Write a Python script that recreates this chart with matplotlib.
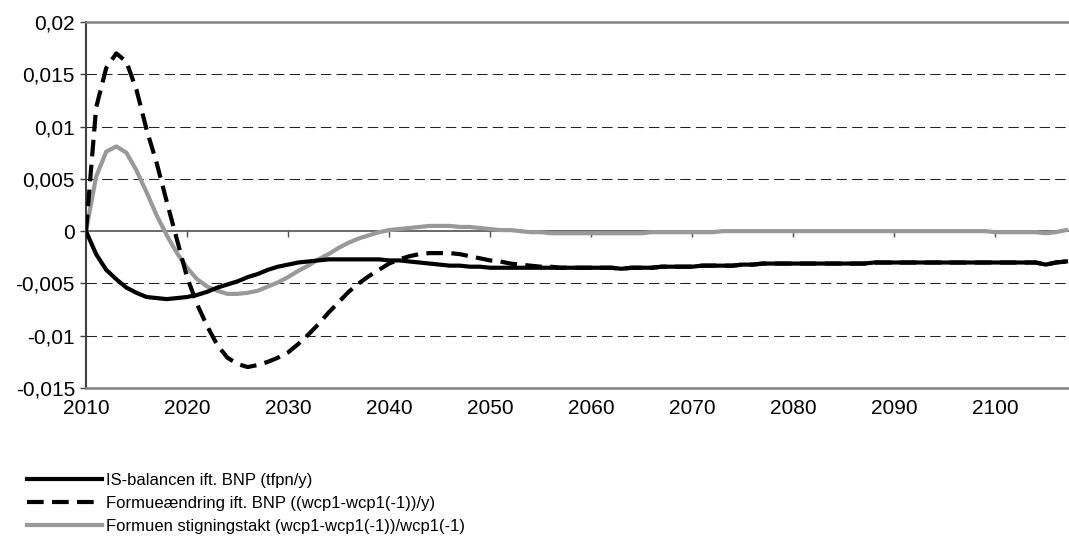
import matplotlib
matplotlib.use("Agg")
import matplotlib.pyplot as plt
from matplotlib import font_manager

# Values (annual, 2010-2107)
years = list(range(2010, 2108))

is_balance = [
    0.0, -0.0022, -0.0037, -0.0046, -0.0054, -0.0059, -0.0063, -0.0064, -0.0065, -0.0064,
    -0.0063, -0.0061, -0.0058, -0.0054, -0.0051, -0.0048, -0.0044, -0.0041, -0.0037, -0.0034,
    -0.0032, -0.0030, -0.0029, -0.0028, -0.0027, -0.0027, -0.0027, -0.0027, -0.0027, -0.0027,
    -0.0028, -0.0028, -0.0029, -0.0030, -0.0031, -0.0032, -0.0033, -0.0033, -0.0034, -0.0034,
    -0.0035, -0.0035, -0.0035, -0.0035, -0.0035, -0.0035, -0.0035, -0.0035, -0.0035, -0.0035,
    -0.0035, -0.0035, -0.0035, -0.0036, -0.0035, -0.0035, -0.0035, -0.0034, -0.0034, -0.0034,
    -0.0034, -0.0033, -0.0033, -0.0033, -0.0033, -0.0032, -0.0032, -0.0031, -0.0031, -0.0031,
    -0.0031, -0.0031, -0.0031, -0.0031, -0.0031, -0.0031, -0.0031, -0.0031, -0.0030, -0.0030,
    -0.0030, -0.0030, -0.0030, -0.0030, -0.0030, -0.0030, -0.0030, -0.0030, -0.0030, -0.0030,
    -0.0030, -0.0030, -0.0030, -0.0030, -0.0030, -0.0032, -0.0030, -0.0029,
]

formue_change = [
    0.0, 0.0118, 0.0156, 0.0170, 0.0162, 0.0135, 0.0097, 0.0065, 0.0028, -0.0008,
    -0.0044, -0.0070, -0.0091, -0.0109, -0.0121, -0.0127, -0.0130, -0.0128, -0.0125, -0.0121,
    -0.0116, -0.0108, -0.0099, -0.0089, -0.0078, -0.0068, -0.0058, -0.0050, -0.0043, -0.0037,
    -0.0031, -0.0027, -0.0024, -0.0022, -0.0021, -0.0021, -0.0021, -0.0022, -0.0024, -0.0026,
    -0.0028, -0.0029, -0.0031, -0.0032, -0.0033, -0.0034, -0.0034, -0.0035, -0.0035, -0.0035,
    -0.0035, -0.0035, -0.0035, -0.0036, -0.0035, -0.0035, -0.0035, -0.0034, -0.0034, -0.0034,
    -0.0034, -0.0033, -0.0033, -0.0033, -0.0033, -0.0032, -0.0032, -0.0031, -0.0031, -0.0031,
    -0.0031, -0.0031, -0.0031, -0.0031, -0.0031, -0.0031, -0.0031, -0.0031, -0.0030, -0.0030,
    -0.0030, -0.0030, -0.0030, -0.0030, -0.0030, -0.0030, -0.0030, -0.0030, -0.0030, -0.0030,
    -0.0030, -0.0030, -0.0030, -0.0030, -0.0030, -0.0032, -0.0030, -0.0029,
]

growth_rate = [
    0.0, 0.0052, 0.0076, 0.0081, 0.0075, 0.0058, 0.0037, 0.0015, -0.0004, -0.0021,
    -0.0035, -0.0046, -0.0053, -0.0057, -0.0060, -0.0060, -0.0059, -0.0057, -0.0053, -0.0049,
    -0.0044, -0.0038, -0.0033, -0.0027, -0.0022, -0.0016, -0.0011, -0.0007, -0.0004, -0.0001,
    0.0001, 0.0002, 0.0003, 0.0004, 0.0005, 0.0005, 0.0005, 0.0004, 0.0004, 0.0003,
    0.0002, 0.0001, 0.0001, 0.0000, -0.0001, -0.0001, -0.0002, -0.0002, -0.0002, -0.0002,
    -0.0002, -0.0002, -0.0002, -0.0002, -0.0002, -0.0002, -0.0001, -0.0001, -0.0001, -0.0001,
    -0.0001, -0.0001, -0.0001, 0.0000, 0.0000, 0.0000, 0.0000, 0.0000, 0.0000, 0.0000,
    0.0000, 0.0000, 0.0000, 0.0000, 0.0000, 0.0000, 0.0000, 0.0000, 0.0000, 0.0000,
    0.0000, 0.0000, 0.0000, 0.0000, 0.0000, 0.0000, 0.0000, 0.0000, 0.0000, 0.0000,
    -0.0001, -0.0001, -0.0001, -0.0001, -0.0001, -0.0002, -0.0001, 0.0001,
]

labels = [
    "IS-balancen ift. BNP (tfpn/y)",
    "Formueændring ift. BNP ((wcp1-wcp1(-1))/y)",
    "Formuen stigningstakt (wcp1-wcp1(-1))/wcp1(-1)",
]

x_ticks = [2010, 2020, 2030, 2040, 2050, 2060, 2070, 2080, 2090, 2100]
y_ticks = [-0.015, -0.01, -0.005, 0, 0.005, 0.01, 0.015, 0.02]
y_tick_labels = ["-0,015", "-0,01", "-0,005", "0", "0,005", "0,01", "0,015", "0,02"]

BLACK = "#000000"
GREY = "#999999"
AXIS_GREY = "#808080"
DPI = 100
TICK_FONT = 15

# legend text in the reference is tall but narrow
try:
    font_manager.findfont("Liberation Sans Narrow", fallback_to_default=False)
    LEGEND_FAMILY = ["Liberation Sans Narrow", "DejaVu Sans"]
    LEGEND_SIZE = 14
except ValueError:
    LEGEND_FAMILY = ["Liberation Sans", "DejaVu Sans"]
    LEGEND_SIZE = 12
LEGEND_PX = LEGEND_SIZE * DPI / 72

plt.rcParams.update({
    "font.family": ["Liberation Sans", "DejaVu Sans"],
    "font.size": TICK_FONT,
})

fig = plt.figure(figsize=(10.69, 5.41), dpi=DPI)
ax = fig.add_axes([86 / 1069, 1 - 388 / 541, 1 - 86 / 1069, (388 - 22) / 541])

XMIN, XMAX = 2010, 2107.3
YMIN, YMAX = -0.015, 0.02
ax.set_xlim(XMIN, XMAX)
ax.set_ylim(YMIN, YMAX)

# horizontal dashed gridlines (not at the borders / zero)
for yv in y_ticks:
    if yv in (YMIN, YMAX, 0):
        continue
    ax.axhline(yv, color="#222222", linewidth=0.75, linestyle=(0, (10, 5)), zorder=1)

# zero axis line with downward ticks
ax.axhline(0, color="#505050", linewidth=1.2, zorder=2)
zero_pos = (0 - YMIN) / (YMAX - YMIN)
sec = ax.secondary_xaxis(zero_pos)
sec.set_xticks(x_ticks)
sec.tick_params(axis="x", direction="out", length=4, width=1, color="#505050",
                labelbottom=False, labeltop=False)
for s in sec.spines.values():
    s.set_visible(False)

ax.plot(years, is_balance, color=BLACK, linewidth=3, label=labels[0], zorder=4)
ax.plot(years, formue_change, color=BLACK, linewidth=3, linestyle=(0, (4, 2)),
        label=labels[1], zorder=5)
ax.plot(years, growth_rate, color=GREY, linewidth=3, label=labels[2], zorder=3)

ax.set_xticks(x_ticks)
ax.tick_params(axis="x", length=0, pad=8)
ax.set_yticks(y_ticks)
ax.set_yticklabels(y_tick_labels)
ax.tick_params(axis="y", direction="out", length=4, width=1, color="#404040", pad=4)

ax.spines["right"].set_visible(False)
ax.spines["top"].set_color(AXIS_GREY)
ax.spines["top"].set_linewidth(1.8)
ax.spines["bottom"].set_color(AXIS_GREY)
ax.spines["bottom"].set_linewidth(1.8)
ax.spines["left"].set_color("#404040")
ax.spines["left"].set_linewidth(1.5)

fig.legend(
    loc="upper left",
    bbox_to_anchor=(27 / 1069, 1 - 473 / 541),
    frameon=False,
    prop={"family": LEGEND_FAMILY, "size": LEGEND_SIZE},
    handlelength=75 / LEGEND_PX,
    handletextpad=4 / LEGEND_PX,
    labelspacing=0.48 * 16.67 / LEGEND_PX,
    borderpad=0,
    borderaxespad=0,
)

fig.savefig("out.png", dpi=DPI, facecolor="white")
